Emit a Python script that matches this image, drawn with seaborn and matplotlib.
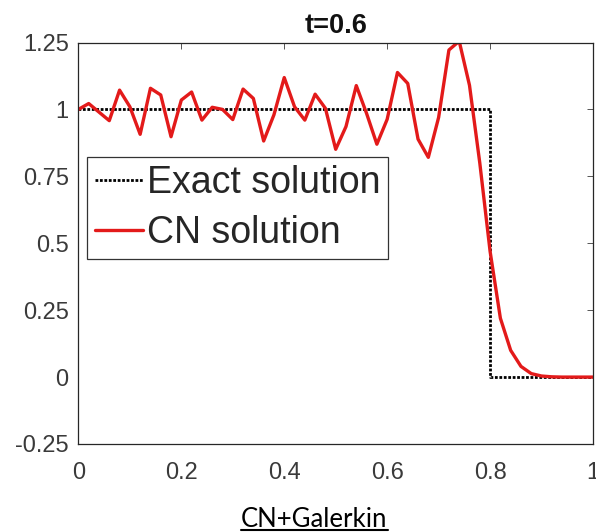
import numpy as np
import pandas as pd
import matplotlib
matplotlib.use("Agg")
import matplotlib.pyplot as plt
from matplotlib.lines import Line2D
import seaborn as sns

# ---- data ----
x_grid = np.round(np.arange(0, 51) * 0.02, 4)
cn_values = [1.000, 1.022, 0.990, 0.958, 1.072, 1.010, 0.907, 1.079, 1.054, 0.898,
             1.035, 1.065, 0.960, 1.008, 1.000, 0.962, 1.076, 1.041, 0.882, 0.980,
             1.119, 1.010, 0.960, 1.057, 1.004, 0.851, 0.936, 1.089, 0.985, 0.870,
             0.963, 1.138, 1.097, 0.889, 0.821, 0.970, 1.222, 1.255, 1.090, 0.800,
             0.470, 0.220, 0.100, 0.040, 0.013, 0.004, 0.001, 0.000, 0.000, 0.000,
             0.000]
exact_x = [0.0, 0.8, 0.8, 1.0]
exact_y = [1.0, 1.0, 0.0, 0.0]
xticks = [0, 0.2, 0.4, 0.6, 0.8, 1]
xtick_labels = ["0", "0.2", "0.4", "0.6", "0.8", "1"]
yticks = [-0.25, 0, 0.25, 0.5, 0.75, 1, 1.25]
ytick_labels = ["-0.25", "0", "0.25", "0.5", "0.75", "1", "1.25"]
title = "t=0.6"
series_names = ["Exact solution", "CN solution"]
caption = "CN+Galerkin"

sns.set_style("white")
plt.rcParams["font.family"] = ["Liberation Sans", "DejaVu Sans"]

fig = plt.figure(figsize=(5.96, 5.32), dpi=100)
ax = fig.add_axes([78.4 / 596, 1 - 444 / 532, (593 - 78.4) / 596, (444 - 42.5) / 532])

exact_df = pd.DataFrame({"x": exact_x, "y": exact_y})
cn_df = pd.DataFrame({"x": x_grid, "y": cn_values})

sns.lineplot(data=exact_df, x="x", y="y", ax=ax, estimator=None, sort=False,
             color="black", linewidth=2.0, linestyle=(0, (1, 0.6)),
             label=series_names[0])
sns.lineplot(data=cn_df, x="x", y="y", ax=ax, estimator=None, sort=False,
             color="#e31a1a", linewidth=2.4, label=series_names[1])

ax.set_xlim(0, 1)
ax.set_ylim(-0.25, 1.25)
ax.set_xticks(xticks)
ax.set_xticklabels(xtick_labels)
ax.set_yticks(yticks)
ax.set_yticklabels(ytick_labels)
ax.set_xlabel("")
ax.set_ylabel("")
ax.tick_params(axis="x", direction="in", length=4, width=0.7, colors="#555555",
               labelcolor="#3a3a3a", labelsize=17, pad=13, top=True)
ax.tick_params(axis="y", direction="in", length=4, width=0.7, colors="#555555",
               labelcolor="#3a3a3a", labelsize=17, pad=7, right=True)
for s in ax.spines.values():
    s.set_visible(True)
    s.set_color("#262626")
    s.set_linewidth(0.9)

ax.set_title(title, fontsize=19.5, fontweight="bold", pad=6.5, color="#111111")

leg = ax.legend(loc="upper left", bbox_to_anchor=(0.017, 0.714), borderaxespad=0,
                fontsize=27, handlelength=1.28, handletextpad=0.12, borderpad=0.2,
                labelspacing=0.39, frameon=True, fancybox=False, framealpha=1)
leg.get_frame().set_edgecolor("#333333")
leg.get_frame().set_linewidth(0.9)

t = fig.text(314.5 / 596, (532 - 526.7) / 532, caption, ha="center", va="baseline",
             fontsize=18.5, family=["Lato", "DejaVu Sans"], color="black")
fig.canvas.draw()
bb = t.get_window_extent(renderer=fig.canvas.get_renderer())
W, H = fig.bbox.width, fig.bbox.height
uy = (532 - 530.3) / 532
fig.add_artist(Line2D([bb.x0 / W, bb.x1 / W], [uy, uy], transform=fig.transFigure,
                      color="black", linewidth=1.5))

fig.savefig("out.png", dpi=100)
